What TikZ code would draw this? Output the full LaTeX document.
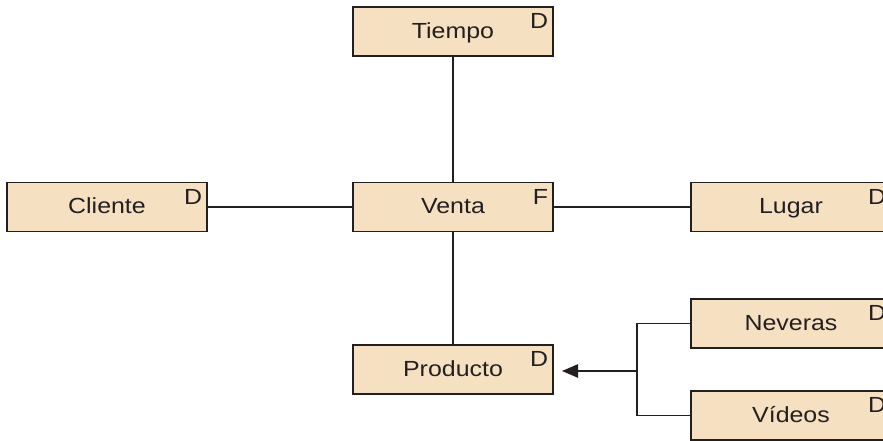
\documentclass[tikz,border=0pt]{standalone}
\usepackage{fontspec}
\setmainfont{Liberation Sans}[FakeStretch=1.14]
\usetikzlibrary{arrows.meta}
\definecolor{boxfill}{HTML}{F5E1C1}
\definecolor{ink}{HTML}{231F20}
\begin{document}
\begin{tikzpicture}
		[	x=0.75pt,y=-0.75pt,
		box/.style={rectangle,draw=ink,fill=boxfill,line width=1.1pt,
			minimum width=200*0.75pt,minimum height=49*0.75pt,
			inner sep=0pt,text height=12pt,text depth=1.5pt,
			font=\fontsize{16.4}{18}\selectfont,text=ink},
		dim/.style={box,label={[tag]north east:D}},
		fact/.style={box,label={[tag]north east:F}},
		tag/.style={anchor=north east,inner sep=0pt,xshift=-4pt,yshift=-5.5pt,
			font=\fontsize{16.4}{18}\selectfont,text=ink},
		link/.style={draw=ink,line width=1.1pt}
		]
		\useasboundingbox (0,0) rectangle (883,441);
		\node[dim] (tiempo) at (453,31.5){Tiempo};
		\node[fact] (venta) at (453,207){Venta};
		\node[dim] (cliente) at (107,207){Cliente};
		\node[dim] (lugar) at (791,207){Lugar};
		\node[dim] (producto) at (453,369.5){Producto};
		\node[dim] (neveras) at (791,323.5){Neveras};
		\node[dim] (videos) at (791,415.5){Vídeos};
\coordinate (split) at (637,371);
\coordinate (tip) at (562,371);
		\draw[link] (tiempo) -- (venta);
		\draw[link] (cliente) -- (venta);
		\draw[link] (venta) -- (lugar);
		\draw[link] (venta) -- (producto);
		\draw[link] (neveras.west) -| (split) |- (videos.west);
		\draw[link,-{Triangle[length=12pt,width=10pt]}] (split) -- (tip);
	\end{tikzpicture}
\end{document}
